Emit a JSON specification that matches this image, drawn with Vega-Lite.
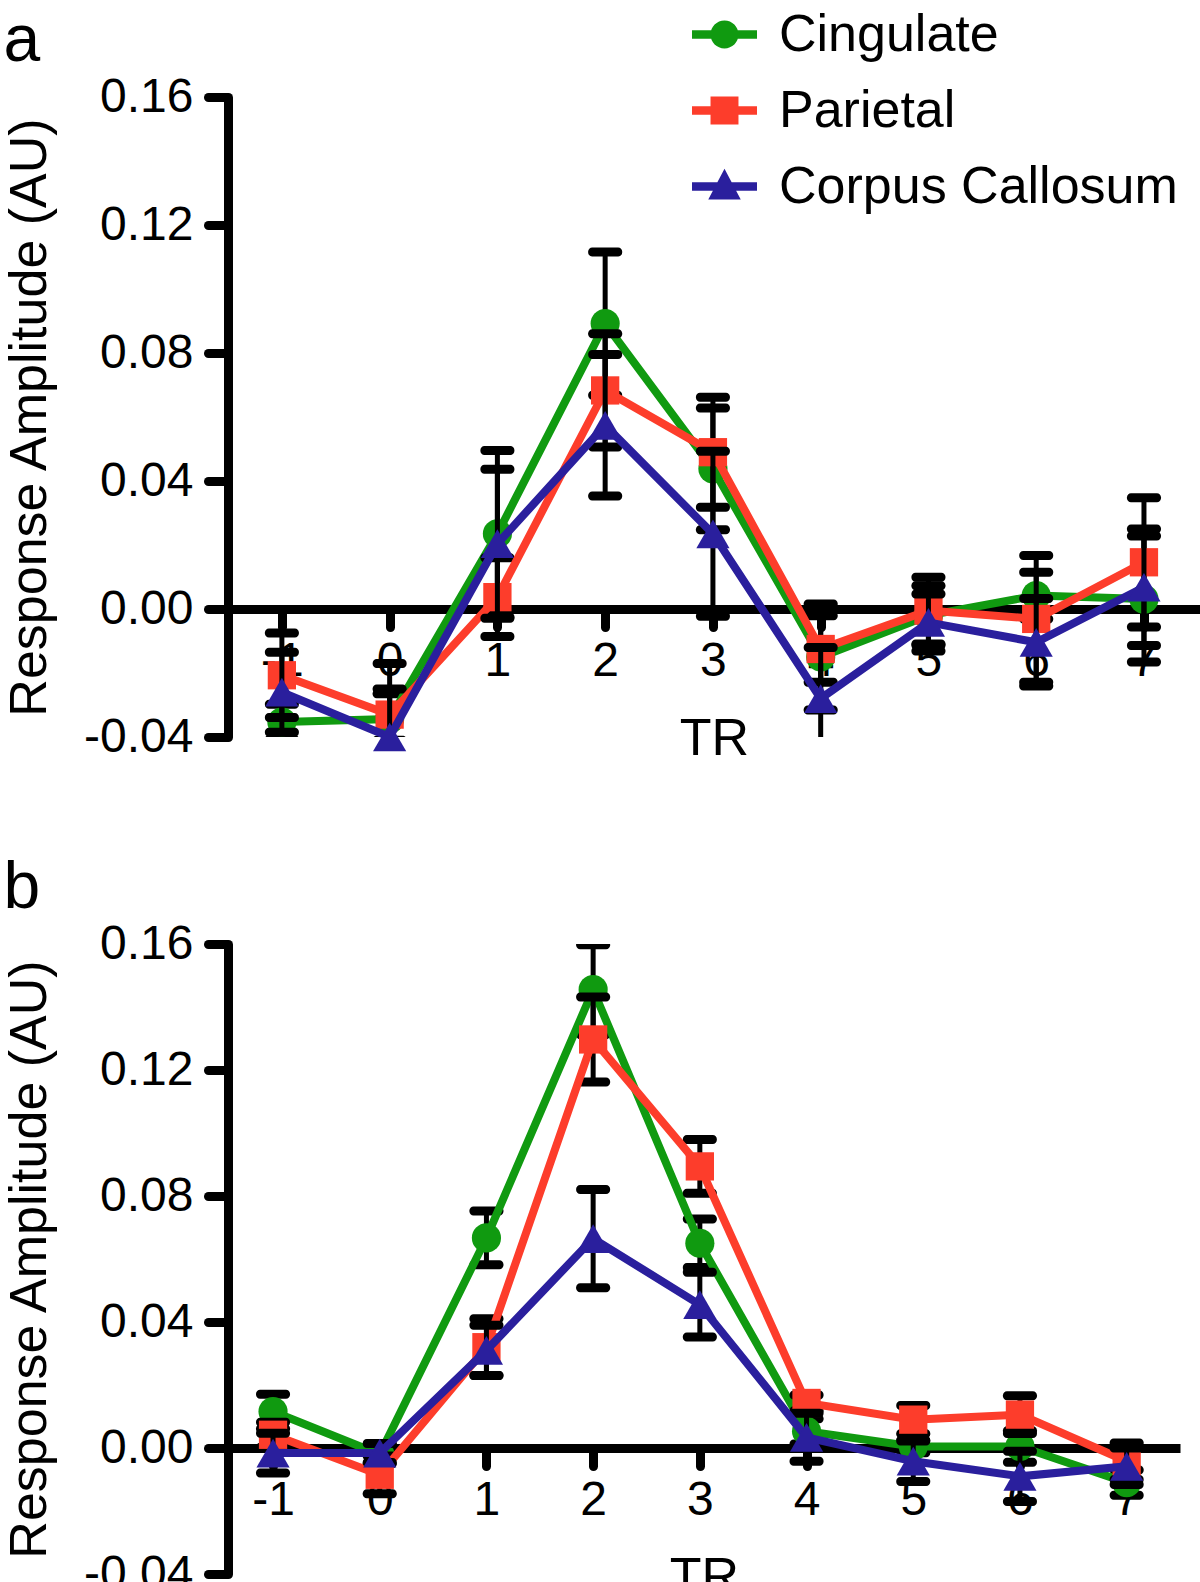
{
  "$schema": "https://vega.github.io/schema/vega-lite/v6.json",
  "background": "white",
  "padding": {"left": 3, "top": 2, "right": 0, "bottom": 0},
  "columns": 1,
  "spacing": 91,
  "config": {
    "view": {"stroke": null},
    "font": "Liberation Sans",
    "axis": {
      "grid": false,
      "domainColor": "black",
      "tickColor": "black",
      "labelColor": "black",
      "titleColor": "black",
      "labelFont": "Liberation Sans",
      "titleFont": "Liberation Sans",
      "titleFontWeight": "normal",
      "labelFontSize": 48,
      "titleFontSize": 52,
      "domainWidth": 9,
      "tickWidth": 9,
      "tickCap": "round"
    },
    "legend": {"orient": "none", "legendX": 464, "legendY": -95, "title": null, "padding": 0, "symbolSize": 4225, "symbolStrokeWidth": 0, "symbolOpacity": 1, "labelFontSize": 52, "labelFont": "Liberation Sans", "labelColor": "black", "labelOffset": 22, "rowPadding": 17, "labelLimit": 600},
    "title": {"font": "Liberation Sans", "fontSize": 66, "fontWeight": "normal", "anchor": "start", "frame": "bounds", "color": "black"}
  },
  "datasets": {
    "d": [
      {"panel": "a", "region": "Cingulate", "tr": -1, "amp": -0.0353, "sem": 0.0055},
      {"panel": "a", "region": "Cingulate", "tr": 0, "amp": -0.0344, "sem": 0.0079},
      {"panel": "a", "region": "Cingulate", "tr": 1, "amp": 0.0235, "sem": 0.026},
      {"panel": "a", "region": "Cingulate", "tr": 2, "amp": 0.0892, "sem": 0.0224},
      {"panel": "a", "region": "Cingulate", "tr": 3, "amp": 0.0438, "sem": 0.019},
      {"panel": "a", "region": "Cingulate", "tr": 4, "amp": -0.015, "sem": 0.0166},
      {"panel": "a", "region": "Cingulate", "tr": 5, "amp": -0.002, "sem": 0.0093},
      {"panel": "a", "region": "Cingulate", "tr": 6, "amp": 0.0042, "sem": 0.0073},
      {"panel": "a", "region": "Cingulate", "tr": 7, "amp": 0.0031, "sem": 0.0197},
      {"panel": "a", "region": "Parietal", "tr": -1, "amp": -0.0207, "sem": 0.0132},
      {"panel": "a", "region": "Parietal", "tr": 0, "amp": -0.033, "sem": 0.008},
      {"panel": "a", "region": "Parietal", "tr": 1, "amp": 0.0037, "sem": 0.0123},
      {"panel": "a", "region": "Parietal", "tr": 2, "amp": 0.0683, "sem": 0.0177},
      {"panel": "a", "region": "Parietal", "tr": 3, "amp": 0.049, "sem": 0.0172},
      {"panel": "a", "region": "Parietal", "tr": 4, "amp": -0.0125, "sem": 0.0104},
      {"panel": "a", "region": "Parietal", "tr": 5, "amp": -0.0005, "sem": 0.0104},
      {"panel": "a", "region": "Parietal", "tr": 6, "amp": -0.0031, "sem": 0.0198},
      {"panel": "a", "region": "Parietal", "tr": 7, "amp": 0.0146, "sem": 0.0202},
      {"panel": "a", "region": "Corpus Callosum", "tr": -1, "amp": -0.026, "sem": 0.0125},
      {"panel": "a", "region": "Corpus Callosum", "tr": 0, "amp": -0.04, "sem": 0.023},
      {"panel": "a", "region": "Corpus Callosum", "tr": 1, "amp": 0.0204, "sem": 0.0233},
      {"panel": "a", "region": "Corpus Callosum", "tr": 2, "amp": 0.0574, "sem": 0.0221},
      {"panel": "a", "region": "Corpus Callosum", "tr": 3, "amp": 0.0235, "sem": 0.0258},
      {"panel": "a", "region": "Corpus Callosum", "tr": 4, "amp": -0.028, "sem": 0.016},
      {"panel": "a", "region": "Corpus Callosum", "tr": 5, "amp": -0.0042, "sem": 0.0089},
      {"panel": "a", "region": "Corpus Callosum", "tr": 6, "amp": -0.0104, "sem": 0.0137},
      {"panel": "a", "region": "Corpus Callosum", "tr": 7, "amp": 0.0068, "sem": 0.0182},
      {"panel": "b", "region": "Cingulate", "tr": -1, "amp": 0.0116, "sem": 0.0055},
      {"panel": "b", "region": "Cingulate", "tr": 0, "amp": -0.002, "sem": 0.003},
      {"panel": "b", "region": "Cingulate", "tr": 1, "amp": 0.0667, "sem": 0.0085},
      {"panel": "b", "region": "Cingulate", "tr": 2, "amp": 0.1455, "sem": 0.0143},
      {"panel": "b", "region": "Cingulate", "tr": 3, "amp": 0.065, "sem": 0.0077},
      {"panel": "b", "region": "Cingulate", "tr": 4, "amp": 0.0053, "sem": 0.004},
      {"panel": "b", "region": "Cingulate", "tr": 5, "amp": 0.0005, "sem": 0.002},
      {"panel": "b", "region": "Cingulate", "tr": 6, "amp": 0.0005, "sem": 0.005},
      {"panel": "b", "region": "Cingulate", "tr": 7, "amp": -0.011, "sem": 0.004},
      {"panel": "b", "region": "Parietal", "tr": -1, "amp": 0.0042, "sem": 0.004},
      {"panel": "b", "region": "Parietal", "tr": 0, "amp": -0.0085, "sem": 0.006},
      {"panel": "b", "region": "Parietal", "tr": 1, "amp": 0.032, "sem": 0.009},
      {"panel": "b", "region": "Parietal", "tr": 2, "amp": 0.1297, "sem": 0.0135},
      {"panel": "b", "region": "Parietal", "tr": 3, "amp": 0.0894, "sem": 0.0085},
      {"panel": "b", "region": "Parietal", "tr": 4, "amp": 0.0143, "sem": 0.0025},
      {"panel": "b", "region": "Parietal", "tr": 5, "amp": 0.009, "sem": 0.0045},
      {"panel": "b", "region": "Parietal", "tr": 6, "amp": 0.0106, "sem": 0.006},
      {"panel": "b", "region": "Parietal", "tr": 7, "amp": -0.0042, "sem": 0.0058},
      {"panel": "b", "region": "Corpus Callosum", "tr": -1, "amp": -0.0016, "sem": 0.0063},
      {"panel": "b", "region": "Corpus Callosum", "tr": 0, "amp": -0.0016, "sem": 0.003},
      {"panel": "b", "region": "Corpus Callosum", "tr": 1, "amp": 0.031, "sem": 0.008},
      {"panel": "b", "region": "Corpus Callosum", "tr": 2, "amp": 0.0665, "sem": 0.0156},
      {"panel": "b", "region": "Corpus Callosum", "tr": 3, "amp": 0.0455, "sem": 0.0103},
      {"panel": "b", "region": "Corpus Callosum", "tr": 4, "amp": 0.0034, "sem": 0.0076},
      {"panel": "b", "region": "Corpus Callosum", "tr": 5, "amp": -0.0042, "sem": 0.0064},
      {"panel": "b", "region": "Corpus Callosum", "tr": 6, "amp": -0.009, "sem": 0.008},
      {"panel": "b", "region": "Corpus Callosum", "tr": 7, "amp": -0.0058, "sem": 0.0058}
    ]
  },
  "concat": [
    {
      "width": 972,
      "height": 640,
      "title": {"text": "a", "baseline": "alphabetic", "offset": -54},
      "data": {"name": "d"},
      "transform": [{"filter": "datum.panel == 'a'"}],
      "encoding": {
        "x": {"field": "tr", "type": "quantitative", "scale": {"domain": [-1.5, 7.52], "nice": false, "zero": false},
          "axis": {"values": [-1, 0, 1, 2, 3, 4, 5, 6, 7], "offset": -128, "title": "TR", "tickSize": 18, "labelPadding": 10, "titleY": 104, "titleBaseline": "top", "labelExpr": "replace(datum.label, '\u2212', '-')"}},
        "y": {"field": "amp", "type": "quantitative", "scale": {"domain": [-0.04, 0.16], "nice": false, "zero": false},
          "axis": {"values": [-0.04, 0, 0.04, 0.08, 0.12, 0.16], "title": "Response Amplitude (AU)", "tickSize": 20, "labelPadding": 15, "titlePadding": 27, "labelExpr": "replace(format(datum.value, '.2f'), '\u2212', '-')"}}
      },
      "layer": [
        {"transform": [{"filter": "datum.region == 'Cingulate'"}], "mark": {"type": "errorbar", "clip": true, "rule": {"strokeWidth": 5, "color": "black", "opacity": 1}, "ticks": {"size": 34, "thickness": 9, "color": "black", "opacity": 1, "cornerRadius": 4}}, "encoding": {"yError": {"field": "sem"}}},
        {"transform": [{"filter": "datum.region == 'Cingulate'"}], "mark": {"type": "line", "color": "#109a10", "strokeWidth": 8}, "encoding": {}},
        {"transform": [{"filter": "datum.region == 'Cingulate'"}], "mark": {"type": "point", "shape": "circle", "filled": true, "opacity": 1, "color": "#109a10", "size": 850}, "encoding": {}},
        {"transform": [{"filter": "datum.region == 'Parietal'"}], "mark": {"type": "errorbar", "clip": true, "rule": {"strokeWidth": 5, "color": "black", "opacity": 1}, "ticks": {"size": 34, "thickness": 9, "color": "black", "opacity": 1, "cornerRadius": 4}}, "encoding": {"yError": {"field": "sem"}}},
        {"transform": [{"filter": "datum.region == 'Parietal'"}], "mark": {"type": "line", "color": "#fd3d2b", "strokeWidth": 8}, "encoding": {}},
        {"transform": [{"filter": "datum.region == 'Parietal'"}], "mark": {"type": "point", "shape": "square", "filled": true, "opacity": 1, "color": "#fd3d2b", "size": 800}, "encoding": {}},
        {"transform": [{"filter": "datum.region == 'Corpus Callosum'"}], "mark": {"type": "errorbar", "clip": true, "rule": {"strokeWidth": 5, "color": "black", "opacity": 1}, "ticks": {"size": 34, "thickness": 9, "color": "black", "opacity": 1, "cornerRadius": 4}}, "encoding": {"yError": {"field": "sem"}}},
        {"transform": [{"filter": "datum.region == 'Corpus Callosum'"}], "mark": {"type": "line", "color": "#2a1f9d", "strokeWidth": 8}, "encoding": {}},
        {"transform": [{"filter": "datum.region == 'Corpus Callosum'"}], "mark": {"type": "point", "shape": "triangle-up", "filled": true, "opacity": 1, "color": "#2a1f9d", "size": 1100}, "encoding": {}},
        {
          "mark": {"type": "point", "filled": true, "opacity": 0, "size": 10},
          "encoding": {
            "fill": {"field": "region", "type": "nominal",
              "scale": {"domain": ["Cingulate", "Parietal", "Corpus Callosum"], "range": ["#109a10", "#fd3d2b", "#2a1f9d"]}},
            "shape": {"field": "region", "type": "nominal",
              "scale": {"domain": ["Cingulate", "Parietal", "Corpus Callosum"], "range": [
                "M-1,-0.13H1V0.13H-1Z M-0.43,0A0.43,0.43 0 1,1 0.43,0A0.43,0.43 0 1,1 -0.43,0Z",
                "M-1,-0.13H1V0.13H-1Z M-0.43,-0.43H0.43V0.43H-0.43Z",
                "M-1,-0.13H1V0.13H-1Z M0,-0.55L0.5,0.4H-0.5Z"]}}
          }
        }
      ]
    },
    {
      "width": 952,
      "height": 630,
      "title": {"text": "b", "baseline": "alphabetic", "offset": -54},
      "data": {"name": "d"},
      "transform": [{"filter": "datum.panel == 'b'"}],
      "encoding": {
        "x": {"field": "tr", "type": "quantitative", "scale": {"domain": [-1.422, 7.5], "nice": false, "zero": false},
          "axis": {"values": [-1, 0, 1, 2, 3, 4, 5, 6, 7], "offset": -126, "title": "TR", "tickSize": 18, "labelPadding": 10, "titleY": 104, "titleBaseline": "top", "labelExpr": "replace(datum.label, '\u2212', '-')"}},
        "y": {"field": "amp", "type": "quantitative", "scale": {"domain": [-0.04, 0.16], "nice": false, "zero": false},
          "axis": {"values": [-0.04, 0, 0.04, 0.08, 0.12, 0.16], "title": "Response Amplitude (AU)", "tickSize": 20, "labelPadding": 15, "titlePadding": 27, "labelExpr": "replace(format(datum.value, '.2f'), '\u2212', '-')"}}
      },
      "layer": [
        {"transform": [{"filter": "datum.region == 'Cingulate'"}], "mark": {"type": "errorbar", "clip": true, "rule": {"strokeWidth": 5, "color": "black", "opacity": 1}, "ticks": {"size": 34, "thickness": 9, "color": "black", "opacity": 1, "cornerRadius": 4}}, "encoding": {"yError": {"field": "sem"}}},
        {"transform": [{"filter": "datum.region == 'Cingulate'"}], "mark": {"type": "line", "color": "#109a10", "strokeWidth": 8}, "encoding": {}},
        {"transform": [{"filter": "datum.region == 'Cingulate'"}], "mark": {"type": "point", "shape": "circle", "filled": true, "opacity": 1, "color": "#109a10", "size": 850}, "encoding": {}},
        {"transform": [{"filter": "datum.region == 'Parietal'"}], "mark": {"type": "errorbar", "clip": true, "rule": {"strokeWidth": 5, "color": "black", "opacity": 1}, "ticks": {"size": 34, "thickness": 9, "color": "black", "opacity": 1, "cornerRadius": 4}}, "encoding": {"yError": {"field": "sem"}}},
        {"transform": [{"filter": "datum.region == 'Parietal'"}], "mark": {"type": "line", "color": "#fd3d2b", "strokeWidth": 8}, "encoding": {}},
        {"transform": [{"filter": "datum.region == 'Parietal'"}], "mark": {"type": "point", "shape": "square", "filled": true, "opacity": 1, "color": "#fd3d2b", "size": 800}, "encoding": {}},
        {"transform": [{"filter": "datum.region == 'Corpus Callosum'"}], "mark": {"type": "errorbar", "clip": true, "rule": {"strokeWidth": 5, "color": "black", "opacity": 1}, "ticks": {"size": 34, "thickness": 9, "color": "black", "opacity": 1, "cornerRadius": 4}}, "encoding": {"yError": {"field": "sem"}}},
        {"transform": [{"filter": "datum.region == 'Corpus Callosum'"}], "mark": {"type": "line", "color": "#2a1f9d", "strokeWidth": 8}, "encoding": {}},
        {"transform": [{"filter": "datum.region == 'Corpus Callosum'"}], "mark": {"type": "point", "shape": "triangle-up", "filled": true, "opacity": 1, "color": "#2a1f9d", "size": 1100}, "encoding": {}}
      ]
    }
  ]
}
